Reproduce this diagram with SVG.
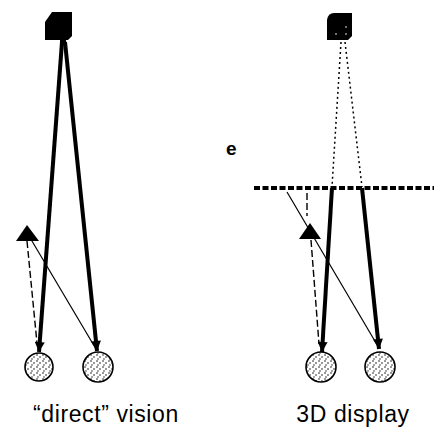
<svg xmlns="http://www.w3.org/2000/svg" width="434" height="429" viewBox="0 0 434 429">
  <style>
    .thick { stroke:#000; stroke-width:4; fill:none; }
    .thin { stroke:#000; stroke-width:1.2; fill:none; }
    .dash { stroke:#000; stroke-width:1.4; fill:none; stroke-dasharray:7 3; }
    .dot { stroke:#000; stroke-width:1.5; fill:none; stroke-dasharray:2 3; }
    .screen { stroke:#000; stroke-width:4; fill:none; stroke-dasharray:6 2.5; }
    .eye { fill:url(#stipple); stroke:#000; stroke-width:1.6; }
    .label { font-family:"Liberation Sans", Arial, sans-serif; font-size:23px; fill:#000; letter-spacing:0.6px; }
  </style>
  <defs>
    <pattern id="stipple" width="6" height="6" patternUnits="userSpaceOnUse">
      <rect width="6" height="6" fill="#fff"/>
      <circle cx="1" cy="1" r="0.75" fill="#000"/>
      <circle cx="4" cy="3" r="0.75" fill="#000"/>
      <circle cx="2" cy="5" r="0.65" fill="#000"/>
    </pattern>
    <marker id="arr" viewBox="0 0 10 10" refX="10" refY="5" markerWidth="13" markerHeight="10" markerUnits="userSpaceOnUse" orient="auto">
      <path d="M0,0 L10,5 L0,10 Z" fill="#000"/>
    </marker>
  </defs>

  <g id="connectors">
    <!-- left panel -->
    <line class="thick" x1="62" y1="42" x2="39" y2="352" marker-end="url(#arr)"/>
    <line class="thick" x1="65" y1="42" x2="97" y2="351" marker-end="url(#arr)"/>
    <line class="dash" x1="27" y1="241" x2="37" y2="343"/>
    <line class="thin" x1="29" y1="236" x2="96" y2="349"/>
    <!-- right panel -->
    <line class="dot" x1="341" y1="42" x2="332" y2="187"/>
    <line class="dot" x1="345" y1="42" x2="362" y2="187"/>
    <line class="screen" x1="254" y1="188" x2="434" y2="188"/>
    <line class="thick" x1="332" y1="188" x2="322" y2="352" marker-end="url(#arr)"/>
    <line class="thick" x1="362" y1="188" x2="379" y2="349" marker-end="url(#arr)"/>
    <line class="thin" x1="287" y1="192" x2="379" y2="348"/>
    <line class="dash" x1="307" y1="193" x2="307" y2="216"/>
    <line class="dash" x1="311" y1="240" x2="319" y2="344"/>
  </g>

  <g id="object-left">
    <path d="M45,22 L52,12 L72,12 L72,36 L68,40 L45,40 Z" fill="#000"/>
    <rect x="60" y="39" width="6" height="6" fill="#000"/>
  </g>
  <g id="object-right">
    <path d="M327,20 Q328,13 334,13 L352,13 L352,36 L348,40 L327,40 Z" fill="#000"/>
    <circle cx="346" cy="27" r="0.8" fill="#fff"/>
    <circle cx="346" cy="34" r="0.8" fill="#fff"/>
    <circle cx="336" cy="34" r="0.8" fill="#fff"/>
  </g>

  <g id="target-left">
    <path d="M27,225 L39,241 L16,241 Z" fill="#000"/>
  </g>
  <g id="target-right">
    <path d="M310,223 L321,239 L299,239 Z" fill="#000"/>
  </g>

  <g id="eye-left-1"><circle class="eye" cx="39" cy="367" r="14"/></g>
  <g id="eye-left-2"><circle class="eye" cx="98" cy="367" r="15"/></g>
  <g id="eye-right-1"><circle class="eye" cx="321" cy="367" r="15"/></g>
  <g id="eye-right-2"><circle class="eye" cx="380" cy="367" r="15"/></g>

  <g id="fragment">
    <text x="226" y="155" style="font-family:'Liberation Sans', Arial, sans-serif; font-size:19px; font-weight:bold;">e</text>
  </g>

  <g id="label-left">
    <text class="label" x="106" y="422" text-anchor="middle">“direct” vision</text>
  </g>
  <g id="label-right">
    <text class="label" x="353" y="422" text-anchor="middle">3D display</text>
  </g>
</svg>
